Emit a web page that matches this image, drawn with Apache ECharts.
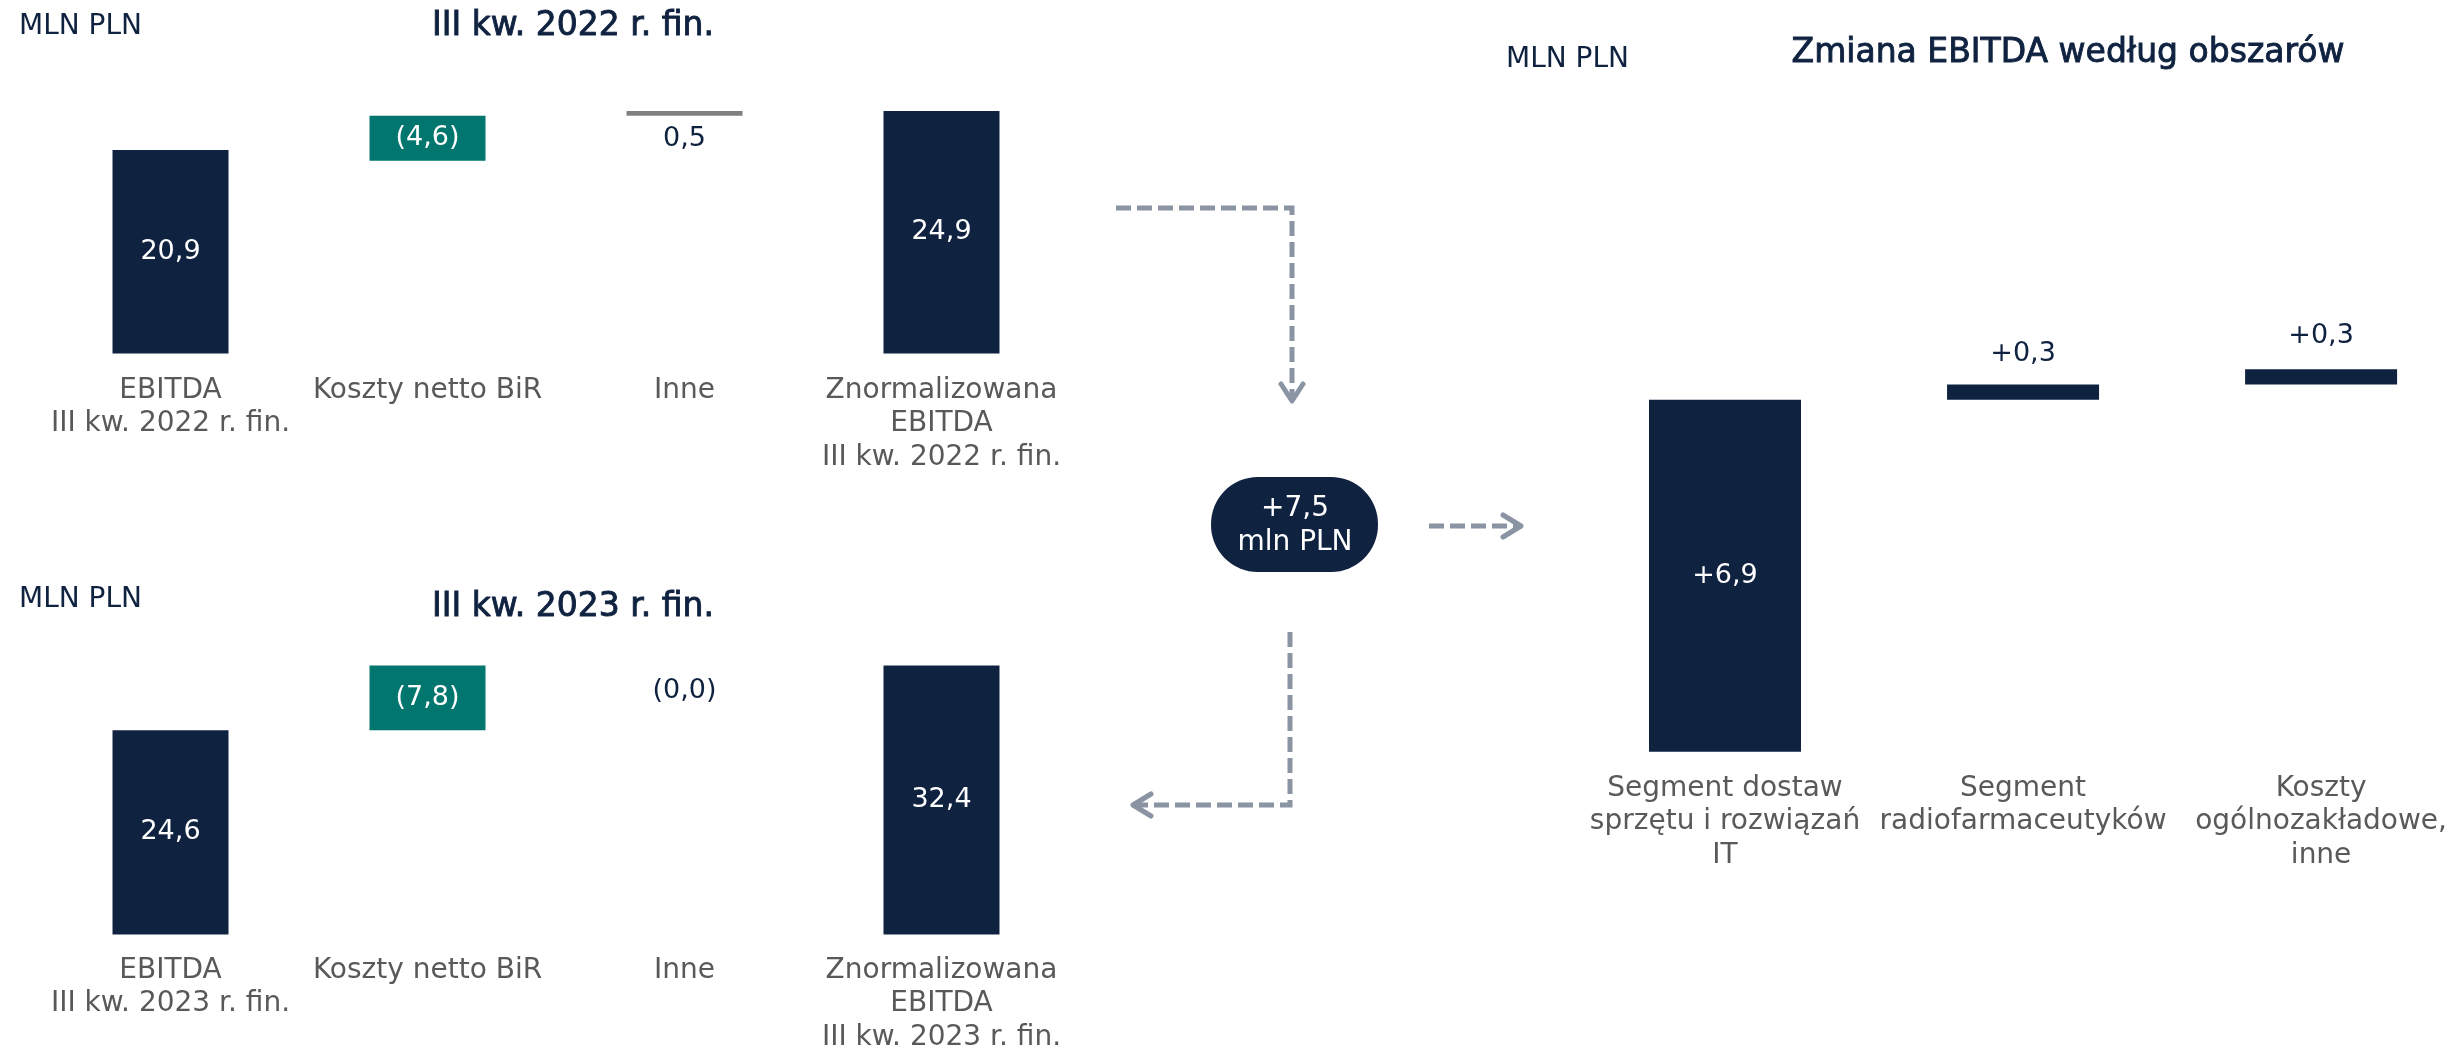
<!DOCTYPE html>
<html>
<head>
<meta charset="utf-8">
<script src="https://cdn.jsdelivr.net/npm/echarts@6/dist/echarts.min.js"></script>
<style>
  html, body { margin: 0; padding: 0; background: #fff; }
  #chart { width: 2450px; height: 1054px; }
</style>
</head>
<body>
<div id="chart"></div>
<script>
var NAVY = "#0f2240";
var TEAL = "#00766e";
var GRAY = "#808080";
var ARROW = "#8a94a3";
var TXT_GRAY = "#595959";
var FONT = "'DejaVu Sans', 'Open Sans', sans-serif";

// III kw. 2022 r. fin.
var cats2022 = ["EBITDA\nIII kw. 2022 r. fin.", "Koszty netto BiR", "Inne", "Znormalizowana\nEBITDA\nIII kw. 2022 r. fin."];
var base2022 = [0, 19.8, 24.4, 0];
var vals2022 = [20.9, 4.6, 0.5, 24.9];
var labels2022 = ["20,9", "(4,6)", "0,5", "24,9"];

// III kw. 2023 r. fin.
var cats2023 = ["EBITDA\nIII kw. 2023 r. fin.", "Koszty netto BiR", "Inne", "Znormalizowana\nEBITDA\nIII kw. 2023 r. fin."];
var base2023 = [0, 24.6, 32.4, 0];
var vals2023 = [24.6, 7.8, 0.0, 32.4];
var labels2023 = ["24,6", "(7,8)", "(0,0)", "32,4"];

// Zmiana EBITDA wedlug obszarow
var catsArea = ["Segment dostaw\nsprzętu i rozwiązań\nIT", "Segment\nradiofarmaceutyków", "Koszty\nogólnozakładowe,\ninne"];
var baseArea = [0, 6.9, 7.2];
var valsArea = [6.9, 0.3, 0.3];
var labelsArea = ["+6,9", "+0,3", "+0,3"];
var totalChange = "+7,5\nmln PLN";

var chart = echarts.init(document.getElementById("chart"));

function buildItems(vals, labels, colors, positions, distances) {
	return vals.map(function(v, i) {
		return {
			value: v,
			itemStyle: { color: colors[i] },
			label: {
				position: positions[i],
				distance: distances[i],
				color: positions[i] == "inside" ? "#fff" : NAVY,
				formatter: labels[i]
			}
		};
	});
}

function baseSeries(data, idx, stack) {
	return {
		type: "bar",
		stack: stack,
		xAxisIndex: idx,
		yAxisIndex: idx,
		silent: true,
		clip: false,
		itemStyle: { color: "transparent" },
		data: data
	};
}

function valSeries(items, idx, stack, width) {
	return {
		type: "bar",
		stack: stack,
		xAxisIndex: idx,
		yAxisIndex: idx,
		barWidth: width,
		clip: false,
		label: {
			show: true,
			fontFamily: FONT,
			fontSize: 27
		},
		data: items
	};
}

function xAx(idx, data, margin) {
	return {
		type: "category",
		gridIndex: idx,
		data: data,
		axisLine: { show: false },
		axisTick: { show: false },
		axisLabel: {
			interval: 0,
			hideOverlap: false,
			margin: margin,
			color: TXT_GRAY,
			fontFamily: FONT,
			fontSize: 28,
			lineHeight: 33.5
		}
	};
}

function yAx(idx, max) {
	return { type: "value", gridIndex: idx, min: 0, max: max, show: false, splitLine: { show: false } };
}

function txt(x, y, text, size, color, align, bold) {
	return {
		type: "text",
		x: x,
		y: y,
		style: {
			text: text,
			fill: color,
			stroke: bold ? color : null,
			lineWidth: bold ? 0.9 : 0,
			font: size + "px " + FONT,
			align: align || "left",
			verticalAlign: "middle",
			lineHeight: 34
		}
	};
}

function dashed(points) {
	return {
		type: "polyline",
		shape: { points: points },
		style: { stroke: ARROW, lineWidth: 5, lineDash: [15, 6], fill: null }
	};
}

function head(points) {
	return {
		type: "polyline",
		shape: { points: points },
		style: { stroke: ARROW, lineWidth: 5, lineCap: "round", lineJoin: "round", fill: null }
	};
}

var areaAxis = xAx(2, catsArea, 20);
areaAxis.boundaryGap = false;

var option = {
	animation: false,
	grid: [
		{ left: 42, width: 1028, top: 110, height: 243.5 },
		{ left: 42, width: 1028, top: 660.5, height: 276.2 },
		{ left: 1725, width: 599, top: 343.7, height: 408 }
	],
	xAxis: [
		xAx(0, cats2022, 20),
		xAx(1, cats2023, 19),
		areaAxis
	],
	yAxis: [yAx(0, 25), yAx(1, 33), yAx(2, 8)],
	series: [
		baseSeries(base2022, 0, "a"),
		valSeries(buildItems(vals2022, labels2022, [NAVY, TEAL, GRAY, NAVY],
			["inside", "inside", "bottom", "inside"], [5, 5, 10, 5]), 0, "a", 116),
		baseSeries(base2023, 1, "b"),
		valSeries(buildItems(vals2023, labels2023, [NAVY, TEAL, NAVY, NAVY],
			["inside", "inside", "bottom", "inside"], [5, 5, 12, 5]), 1, "b", 116),
		baseSeries(baseArea, 2, "c"),
		valSeries(buildItems(valsArea, labelsArea, [NAVY, NAVY, NAVY],
			["inside", "top", "top"], [5, 17, 20]), 2, "c", 152)
	],
	graphic: [
		txt(19, 27, "MLN PLN", 28, NAVY),
		txt(573, 26, "III kw. 2022 r. fin.", 33, NAVY, "center", true),
		txt(19, 600, "MLN PLN", 28, NAVY),
		txt(573, 607, "III kw. 2023 r. fin.", 33, NAVY, "center", true),
		txt(1506, 60, "MLN PLN", 28, NAVY),
		txt(2068, 53, "Zmiana EBITDA według obszarów", 33, NAVY, "center", true),
		dashed([[1116, 208], [1292, 208], [1292, 396]]),
		head([[1281, 384], [1292, 401], [1303, 384]]),
		{
			type: "rect",
			shape: { x: 1211, y: 477, width: 167, height: 95, r: 47 },
			style: { fill: NAVY }
		},
		txt(1295, 526, totalChange, 28, "#fff", "center"),
		dashed([[1429, 526], [1518, 526]]),
		head([[1503, 515], [1521, 526], [1503, 537]]),
		dashed([[1290, 632], [1290, 805], [1137, 805]]),
		head([[1151, 794], [1133, 805], [1151, 816]])
	]
};
chart.setOption(option);
</script>
</body>
</html>
